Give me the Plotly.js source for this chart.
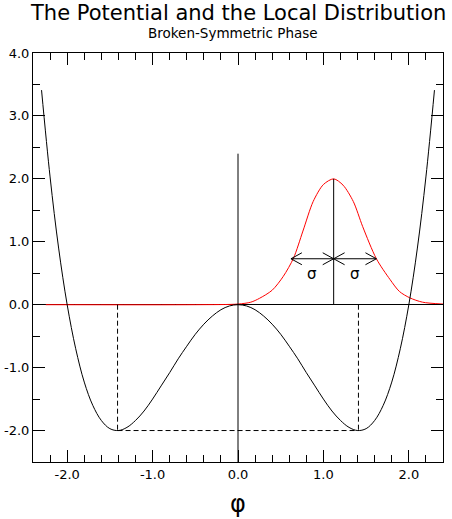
<!DOCTYPE html>
<html>
<head>
<meta charset="utf-8">
<script src="https://cdn.plot.ly/plotly-3.0.1.min.js"></script>
<style>
  html, body { margin: 0; padding: 0; background: #fff; }
  #chart { width: 452px; height: 519px; }
</style>
</head>
<body>
<div id="chart"></div>
<script>
// Double-well potential V(phi), sampled along the field axis
const phi = [-2.3, -2.2, -2.1, -2.0, -1.9, -1.8, -1.7, -1.6, -1.5, -1.4, -1.3, -1.2,
             -1.1, -1.0, -0.9, -0.8, -0.7, -0.6, -0.5, -0.4, -0.3, -0.2, -0.1, 0.0,
              0.1,  0.2,  0.3,  0.4,  0.5,  0.6,  0.7,  0.8,  0.9,  1.0,  1.1,  1.2,
              1.3,  1.4,  1.5,  1.6,  1.7,  1.8,  1.9,  2.0,  2.1,  2.2,  2.3];
const potential = [3.41, 2.03, 0.90, 0.00, -0.70, -1.23, -1.60, -1.84, -1.97, -2.00, -1.95, -1.84,
                   -1.69, -1.50, -1.29, -1.08, -0.86, -0.66, -0.47, -0.31, -0.18, -0.08, -0.02, 0.00,
                   -0.02, -0.08, -0.18, -0.31, -0.47, -0.66, -0.86, -1.08, -1.29, -1.50, -1.69, -1.84,
                   -1.95, -2.00, -1.97, -1.84, -1.60, -1.23, -0.70, 0.00, 0.90, 2.03, 3.41];

// Local distribution of the field around the shifted vacuum
const distPhi = [-2.25, -0.5, 0.0, 0.15, 0.25, 0.4, 0.53, 0.65, 0.76, 0.88, 1.0, 1.12,
                 1.23, 1.35, 1.46, 1.62, 1.78, 1.89, 2.01, 2.16, 2.4];
const distribution = [0.0, 0.0, 0.01, 0.04, 0.10, 0.23, 0.45, 0.74, 1.17, 1.64, 1.91, 2.0,
                      1.90, 1.64, 1.24, 0.73, 0.40, 0.21, 0.11, 0.04, 0.01];

// Potential minima
const minimaPhi = [-1.41, 1.41];
const minimaV = [-2.0, -2.0];

// Peak of the distribution and its width markers
const peakPhi = 1.12;
const peakValue = 2.0;
const sigma = 0.5;
const sigmaLevel = 0.73;
const centreLineTop = 2.4;

// Axis ranges and tick labels
const xRange = [-2.4, 2.4];
const yRange = [-2.5, 4.0];
const xTickVals = [-2, -1, 0, 1, 2];
const xTickText = ['-2.0', '-1.0', '0.0', '1.0', '2.0'];
const yTickVals = [-2, -1, 0, 1, 2, 3, 4];
const yTickText = ['-2.0', '-1.0', '0.0', '1.0', '2.0', '3.0', '4.0'];

// Arrow-head half sizes (data units)
const headDx = 0.128, headDy = 0.095;

function arrowHead(tip, dir) {
  return {
    x: [tip - dir * headDx, tip, tip - dir * headDx, null],
    y: [sigmaLevel + headDy, sigmaLevel, sigmaLevel - headDy, null]
  };
}

const heads = [
  arrowHead(peakPhi - sigma, -1),
  arrowHead(peakPhi, 1),
  arrowHead(peakPhi, -1),
  arrowHead(peakPhi + sigma, 1)
];
const arrowX = [peakPhi - sigma, peakPhi + sigma, null];
const arrowY = [sigmaLevel, sigmaLevel, null];
heads.forEach(h => { arrowX.push(...h.x); arrowY.push(...h.y); });

const thin = { color: '#000', width: 1 };
const dashed = { color: '#000', width: 1, dash: '5px,3px' };

const traces = [
  { x: distPhi, y: distribution, mode: 'lines',
    line: { color: '#ff0000', width: 1, shape: 'spline', smoothing: 0.8 } },
  { x: phi, y: potential, mode: 'lines',
    line: { color: '#000', width: 1, shape: 'spline', smoothing: 1 } },
  // vertical line through the origin
  { x: [0, 0], y: [yRange[0], centreLineTop], mode: 'lines', line: thin },
  // vertical line under the distribution peak
  { x: [peakPhi, peakPhi], y: [0, peakValue], mode: 'lines', line: thin },
  // dashed guides to the minima
  { x: [minimaPhi[0], minimaPhi[0], null, minimaPhi[1], minimaPhi[1]],
    y: [0, minimaV[0], null, 0, minimaV[1]], mode: 'lines', line: dashed },
  { x: [minimaPhi[0], minimaPhi[1]], y: [minimaV[0], minimaV[1]], mode: 'lines', line: dashed },
  // width arrows
  { x: arrowX, y: arrowY, mode: 'lines', line: thin }
];

const font = 'DejaVu Sans, Liberation Sans, Arial, sans-serif';

const axisCommon = {
  showgrid: false,
  showline: true,
  linecolor: '#000',
  linewidth: 1,
  mirror: 'ticks',
  ticks: 'inside',
  ticklen: 12,
  tickwidth: 1,
  tickcolor: '#000',
  tickmode: 'array',
  tickfont: { family: font, size: 13, color: '#000' },
  fixedrange: true
};

const layout = {
  width: 452,
  height: 519,
  margin: { l: 33, r: 9, t: 53, b: 57 },
  paper_bgcolor: '#fff',
  plot_bgcolor: '#fff',
  showlegend: false,
  xaxis: Object.assign({}, axisCommon, {
    range: xRange,
    tickvals: xTickVals,
    ticktext: xTickText,
    zeroline: false,
    minor: { tickmode: 'linear', tick0: 0, dtick: 0.2, ticks: 'inside', ticklen: 7, tickcolor: '#000', tickwidth: 1, showgrid: false },
    title: { text: 'φ', font: { family: font, size: 24, color: '#000' }, standoff: 14 }
  }),
  yaxis: Object.assign({}, axisCommon, {
    range: yRange,
    tickvals: yTickVals,
    ticktext: yTickText,
    zeroline: true,
    zerolinecolor: '#000',
    zerolinewidth: 1,
    minor: { tickmode: 'linear', tick0: 0, dtick: 0.5, ticks: 'inside', ticklen: 7, tickcolor: '#000', tickwidth: 1, showgrid: false }
  }),
  annotations: [
    { text: 'The Potential and the Local Distribution', xref: 'paper', yref: 'paper',
      x: 0.5, y: 1, xanchor: 'center', yanchor: 'bottom', yshift: 26, showarrow: false,
      font: { family: font, size: 21, color: '#000' } },
    { text: 'Broken-Symmetric Phase', xref: 'paper', yref: 'paper',
      x: 0.5, y: 1, xanchor: 'center', yanchor: 'bottom', xshift: -5, yshift: 10, showarrow: false,
      font: { family: font, size: 13.5, color: '#000' } },
    { text: 'σ', x: peakPhi - sigma / 2, y: sigmaLevel - 0.24, showarrow: false,
      xanchor: 'center', yanchor: 'middle', font: { family: font, size: 15, color: '#000' } },
    { text: 'σ', x: peakPhi + sigma / 2, y: sigmaLevel - 0.24, showarrow: false,
      xanchor: 'center', yanchor: 'middle', font: { family: font, size: 15, color: '#000' } }
  ]
};

Plotly.newPlot('chart', traces, layout, { staticPlot: true, displayModeBar: false });
</script>
</body>
</html>
